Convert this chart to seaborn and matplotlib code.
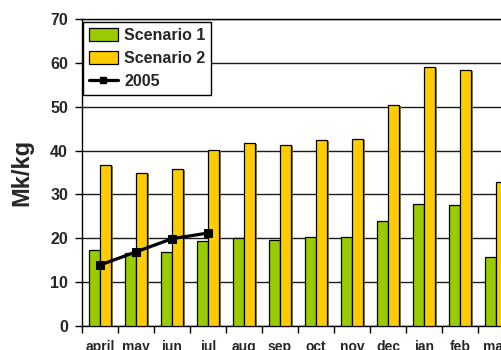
import numpy as np
import pandas as pd
import matplotlib
matplotlib.use("Agg")
import matplotlib.pyplot as plt
import seaborn as sns
from matplotlib.patches import Patch
from matplotlib.lines import Line2D
from matplotlib import patheffects as pe

# Monthly values (Mk/kg)
months = ["april", "may", "jun", "jul", "aug", "sep", "oct", "nov", "dec", "jan", "feb", "mar"]
scenario_1 = [17.4, 16.7, 16.9, 19.3, 20.0, 19.7, 20.3, 20.3, 24.0, 27.9, 27.7, 15.8]
scenario_2 = [36.7, 34.9, 35.8, 40.2, 41.8, 41.3, 42.3, 42.6, 50.3, 59.0, 58.3, 32.9]
months_2005 = ["april", "may", "jun", "jul"]
values_2005 = [13.9, 16.9, 19.9, 21.2]

series_names = ["Scenario 1", "Scenario 2"]
colors = ["#99CC00", "#FFCC00"]

df = pd.DataFrame({
    "month": months * 2,
    "value": scenario_1 + scenario_2,
    "series": [series_names[0]] * len(months) + [series_names[1]] * len(months),
})
df_2005 = pd.DataFrame({
    "pos": [months.index(m) for m in months_2005],
    "value": values_2005,
})

sns.set_style("white")
plt.rcParams["font.family"] = ["Liberation Sans", "DejaVu Sans"]
plt.rcParams["font.weight"] = "bold"

fig = plt.figure(figsize=(5.01, 3.5), dpi=100)
W, H = 501, 350
ax = fig.add_axes([82 / W, 24 / H, 432 / W, 307 / H])

sns.barplot(data=df, x="month", y="value", hue="series", order=months,
            hue_order=series_names, palette=colors, width=0.6,
            edgecolor="black", linewidth=0.9, saturation=1, legend=False,
            ax=ax, zorder=3)
for bar in ax.patches:
    bar.set_path_effects([pe.SimplePatchShadow(offset=(1.6, -0.6),
                                               shadow_rgbFace="#707070", alpha=0.9),
                          pe.Normal()])

sns.lineplot(data=df_2005, x="pos", y="value", color="black", linewidth=2.3,
             marker="s", markersize=5.5, markeredgecolor="black", ax=ax, zorder=5)

ax.set_xlim(-0.5, len(months) - 0.5)
ax.set_ylim(0, 70)
ax.set_yticks(np.arange(0, 71, 10))
ax.yaxis.grid(True, color="#1a1a1a", linewidth=1.0, zorder=0)
ax.set_axisbelow(True)

# category boundaries carry the tick marks, centres carry the labels
ax.set_xticks(np.arange(-0.5, len(months), 1.0))
ax.set_xticklabels([])
ax.set_xticks(np.arange(len(months)), minor=True)
ax.set_xticklabels(months, minor=True, fontsize=10, fontweight="bold")
ax.tick_params(axis="x", which="major", direction="out", length=5, width=1,
               color="black", bottom=True)
ax.tick_params(axis="x", which="minor", length=0, pad=10)
ax.tick_params(axis="y", direction="out", length=5, width=1, color="black",
               left=True, labelsize=11.5, pad=5)
for lab in ax.get_yticklabels():
    lab.set_fontweight("bold")

ax.set_xlabel("")
ax.set_ylabel("Mk/kg", fontsize=17, fontweight="bold", labelpad=12)

for side in ["top", "left", "bottom"]:
    ax.spines[side].set_visible(True)
    ax.spines[side].set_color("black")
    ax.spines[side].set_linewidth(1.0)
ax.spines["right"].set_visible(False)

handles = [
    Patch(facecolor=colors[0], edgecolor="black", linewidth=0.9, label=series_names[0]),
    Patch(facecolor=colors[1], edgecolor="black", linewidth=0.9, label=series_names[1]),
    Line2D([0], [0], color="black", linewidth=2.3, marker="s", markersize=4, label="2005"),
]
leg = ax.legend(handles=handles, loc="upper left", bbox_to_anchor=(0.003, 0.99),
                borderaxespad=0, frameon=True, fancybox=False, framealpha=1,
                edgecolor="black", prop={"size": 11.5, "weight": "bold"},
                handlelength=1.8, handleheight=0.9, handletextpad=0.4,
                labelspacing=0.5, borderpad=0.35)
leg.get_frame().set_linewidth(1.0)
leg.set_zorder(10)

fig.savefig("out.png", dpi=100)
